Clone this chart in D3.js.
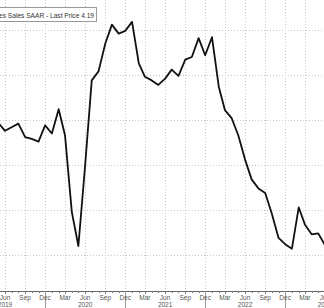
<!DOCTYPE html>
<html><head><meta charset="utf-8">
<script src="https://cdn.jsdelivr.net/npm/d3@7"></script>
<style>html,body{margin:0;padding:0;background:#fff;overflow:hidden}</style>
</head><body>
<svg id="c" width="324" height="308"></svg>
<script>
// Months (first day of month) and values (millions, SAAR)
const months = ["2019-05","2019-06","2019-07","2019-08","2019-09","2019-10","2019-11","2019-12",
  "2020-01","2020-02","2020-03","2020-04","2020-05","2020-06","2020-07","2020-08","2020-09","2020-10","2020-11","2020-12",
  "2021-01","2021-02","2021-03","2021-04","2021-05","2021-06","2021-07","2021-08","2021-09","2021-10","2021-11","2021-12",
  "2022-01","2022-02","2022-03","2022-04","2022-05","2022-06","2022-07","2022-08","2022-09","2022-10","2022-11","2022-12",
  "2023-01","2023-02","2023-03","2023-04","2023-05","2023-06"];
const sales = [5.47,5.38,5.42,5.46,5.31,5.29,5.26,5.44,
  5.35,5.62,5.33,4.48,4.10,5.00,5.94,6.04,6.35,6.56,6.46,6.49,
  6.59,6.13,5.98,5.94,5.89,5.96,6.06,5.99,6.17,6.20,6.41,6.22,
  6.42,5.87,5.61,5.52,5.33,5.06,4.84,4.74,4.69,4.46,4.19,4.12,
  4.07,4.53,4.34,4.23,4.24,4.11];
const yTicks = [4.0,4.5,5.0,5.5,6.0,6.5];
const legendText = "US Existing Homes Sales SAAR - Last Price 4.19";

const parse = d3.timeParse("%Y-%m");
const data = months.map((m,i)=>({d:parse(m), v:sales[i]}));

const svg = d3.select("#c");
const W = 324, H = 308, axisY = 291;
const x = d3.scaleTime().domain([parse("2019-06"), parse("2023-06")]).range([5, 325]);
const y = d3.scaleLinear().domain([4, 6.5]).range([255, 30]);

const allMonths = d3.timeMonth.range(parse("2019-03"), parse("2023-08"));
const quarterMonths = allMonths.filter(d => [2,5,8,11].includes(d.getMonth()));

// grid
const grid = svg.append("g").attr("stroke","#c8c8c8").attr("stroke-width",1).attr("stroke-dasharray","1,2");
grid.selectAll("line.v").data(quarterMonths).join("line")
  .attr("x1",d=>Math.round(x(d))+0.5).attr("x2",d=>Math.round(x(d))+0.5)
  .attr("y1",0).attr("y2",axisY);
grid.selectAll("line.h").data(yTicks).join("line")
  .attr("x1",0).attr("x2",W).attr("y1",d=>Math.round(y(d))+0.5).attr("y2",d=>Math.round(y(d))+0.5);

// axis
const ax = svg.append("g").attr("transform",`translate(0,${axisY})`);
ax.append("line").attr("x1",0).attr("x2",W).attr("y1",0.5).attr("y2",0.5).attr("stroke","#666");
ax.selectAll("line.t").data(allMonths).join("line")
  .attr("x1",d=>Math.round(x(d))+0.5).attr("x2",d=>Math.round(x(d))+0.5)
  .attr("y1",0).attr("y2",d=>[2,5,8,11].includes(d.getMonth())?3:2).attr("stroke","#777");
ax.selectAll("line.yr").data(allMonths.filter(d=>d.getMonth()===11)).join("line")
  .attr("x1",d=>Math.round(x(d))+0.5).attr("x2",d=>Math.round(x(d))+0.5)
  .attr("y1",0).attr("y2",H-axisY).attr("stroke","#999");
const fmt = d3.timeFormat("%b");
ax.selectAll("text.m").data(quarterMonths).join("text")
  .attr("x",d=>x(d)).attr("y",9).attr("text-anchor","middle")
  .attr("font-family","Liberation Sans, Arial, sans-serif").attr("font-size",6.5).attr("fill","#555")
  .text(d=>fmt(d));
ax.selectAll("text.y").data(quarterMonths.filter(d=>d.getMonth()===5)).join("text")
  .attr("x",d=>x(d)).attr("y",16).attr("text-anchor","middle")
  .attr("font-family","Liberation Sans, Arial, sans-serif").attr("font-size",6.5).attr("fill","#555")
  .text(d=>d3.timeFormat("%Y")(d));

// line
svg.append("path").datum(data)
  .attr("fill","none").attr("stroke","#111").attr("stroke-width",1.8).attr("stroke-linejoin","round")
  .attr("d", d3.line().x(d=>x(d.d)).y(d=>y(d.v)));

// legend
const lg = svg.append("g");
lg.append("rect").attr("x",-60.5).attr("y",7.5).attr("width",157).attr("height",14)
  .attr("fill","#fff").attr("stroke","#999");
lg.append("text").attr("x",94).attr("y",17.5).attr("text-anchor","end")
  .attr("font-family","Liberation Sans, Arial, sans-serif").attr("font-size",6.6).attr("fill","#333")
  .text(legendText);
</script>
</body></html>
